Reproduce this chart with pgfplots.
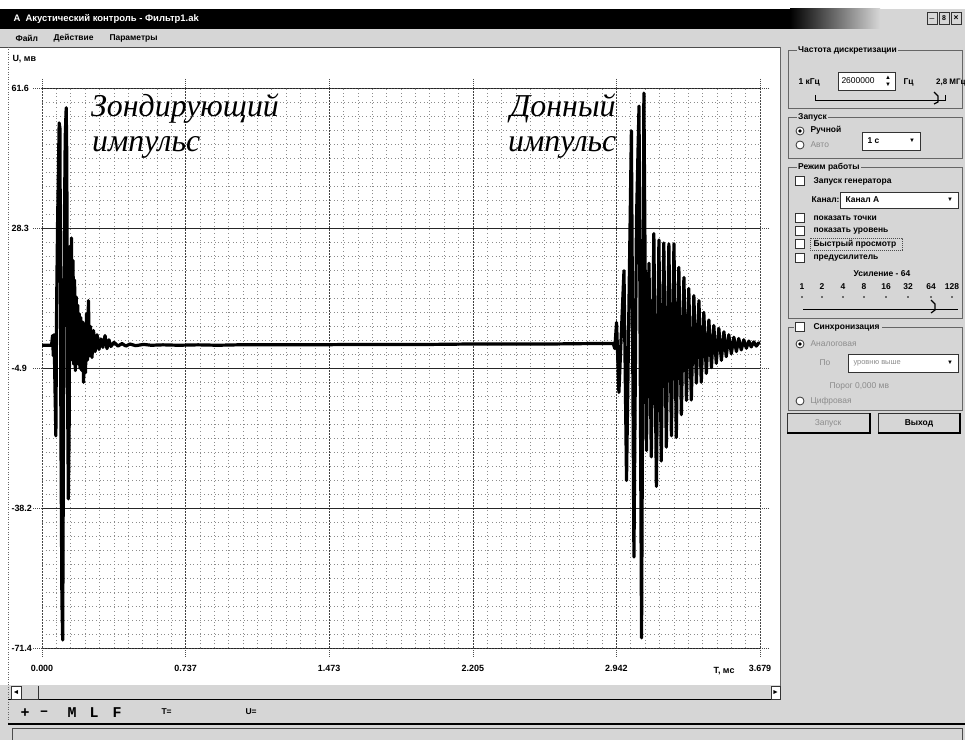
\documentclass[border=0pt]{standalone}
\usepackage{pgfplots}
\pgfplotsset{compat=1.18}
\usepackage{fontspec}
\setmainfont{Liberation Sans}
\newfontfamily\serifit{Liberation Serif}
\newfontfamily\monob{Liberation Mono}
\definecolor{panel}{gray}{0.84}
\definecolor{dimtext}{gray}{0.55}
\newcommand{\ui}{\fontsize{8.5}{10}\selectfont}
\newcommand{\chk}[1]{\filldraw[fill=white, draw=black!80, line width=0.8bp] (#1) ++(-4.5,-4.5) rectangle ++(9,9);}
\newcommand{\rad}[1]{\filldraw[fill=white, draw=black!80, line width=0.8bp] (#1) circle (4);}
\begin{document}
\begin{tikzpicture}[x=1bp,y=1bp]
\useasboundingbox (0,0) rectangle (965,740);
\clip (0,0) rectangle (965,740);
\fill[white] (0,0) rectangle (965,740);
\begin{scope}[shift={(0,740)}, y=-1bp]
  % grey areas
  \fill[panel] (0,29) rectangle (965,47);
  \fill[panel] (780,47) rectangle (965,740);
  \fill[panel] (0,685) rectangle (780,740);
  % title bar
  \fill[black] (0,9) rectangle (790,29);
  \shade[left color=black, right color=panel] (790,9) rectangle (880,29);
  \fill[panel] (880,9) rectangle (965,29);
  \node[anchor=west, text=white, font=\fontsize{9.5}{11}\selectfont\bfseries] at (10,19) {А\ \ Акустический контроль - Фильтр1.ak};
  \foreach \bx/\sym in {932/\_, 944/\textbf{\scriptsize 8}, 956/\textbf{×}} {
    \draw[black!80, line width=0.8bp] (\bx-5,12) rectangle (\bx+5,24);
    \node[font=\ui] at (\bx,18) {\sym};
  }
  % menu
  \node[anchor=west, font=\ui\bfseries] at (12,38) {Файл};
  \node[anchor=west, font=\ui\bfseries] at (50,38) {Действие};
  \node[anchor=west, font=\ui\bfseries] at (106,38) {Параметры};
  \draw[black!70, line width=0.6bp] (0,47) -- (780,47);
  % plot widget borders
  \draw[black!60, line width=0.6bp, dash pattern=on 1bp off 1.5bp] (8,47) -- (8,722);
  \draw[black!60, line width=0.6bp] (780,47) -- (780,700);
  \node[anchor=west, font=\fontsize{9}{10}\selectfont\bfseries] at (9,59) {U, мв};
  % bottom
  \draw[black, line width=1bp] (8,700) -- (780,700);
  \filldraw[fill=white, draw=black!80, line width=0.8bp] (11,686) rectangle (21,699);
  \node[font=\fontsize{7}{8}\selectfont] at (16,692.5) {◄};
  \draw[black!80, line width=0.8bp] (21,699) -- (38,699) -- (38,686);
  \filldraw[fill=white, draw=black!80, line width=0.8bp] (771,686) rectangle (780,699);
  \node[font=\fontsize{7}{8}\selectfont] at (775.5,692.5) {►};
  \foreach \tx/\tt in {25/+, 44/–, 72/M, 94/L, 117/F}
    \node[font=\monob\bfseries\fontsize{15}{16}\selectfont] at (\tx,713) {\tt};
  \node[anchor=west, font=\ui\bfseries] at (158,712) {T=};
  \node[anchor=west, font=\ui\bfseries] at (242,712) {U=};
  \draw[black, line width=1.2bp] (8,724) -- (965,724);
  \draw[black!70, line width=0.8bp] (12,728) rectangle (962,740);
  % right panel: sampling frequency
  \draw[black!60, line width=0.6bp] (788,50) rectangle (962,108);
  \node[anchor=west, fill=panel, inner sep=1bp, font=\ui\bfseries] at (797,50) {Частота дискретизации};
  \node[anchor=west, font=\ui\bfseries] at (795,82) {1 кГц};
  \filldraw[fill=white, draw=black!80, line width=0.8bp] (838,72) rectangle (895,90);
  \node[anchor=west, font=\ui] at (838,81) {2600000};
  \node[font=\fontsize{6}{7}\selectfont] at (888,77.5) {▲};
  \node[font=\fontsize{6}{7}\selectfont] at (888,85) {▼};
  \node[anchor=west, font=\ui\bfseries] at (900,82) {Гц};
  \node[anchor=west, inner sep=0, font=\fontsize{8}{9}\selectfont\bfseries] at (936,83) {2,8 МГц};
  \draw[black, line width=0.9bp] (815,100) -- (945,100);
  \draw[black, line width=0.9bp] (815,95) -- (815,101) (945,95) -- (945,101);
  \draw[black, line width=1.2bp] (934,92) -- (938,96) -- (938,102) -- (934,104);
  % launch
  \draw[black!60, line width=0.6bp] (788,117) rectangle (962,158);
  \node[anchor=west, fill=panel, inner sep=1bp, font=\ui\bfseries] at (797,117) {Запуск};
  \rad{800,131} \fill (800,131) circle (1.8);
  \node[anchor=west, font=\ui\bfseries] at (807,130) {Ручной};
  \rad{800,145}
  \node[anchor=west, font=\ui, text=dimtext] at (807,145) {Авто};
  \filldraw[fill=white, draw=black!80, line width=0.8bp] (862,132) rectangle (920,150);
  \node[anchor=west, font=\ui\bfseries] at (864,141) {1 с};
  \node[font=\fontsize{6}{7}\selectfont] at (912,141) {▼};
  % mode
  \draw[black!60, line width=0.6bp] (788,167) rectangle (962,318);
  \node[anchor=west, fill=panel, inner sep=1bp, font=\ui\bfseries] at (797,167) {Режим работы};
  \chk{800,181}
  \node[anchor=west, font=\ui\bfseries] at (810,181) {Запуск генератора};
  \node[anchor=west, font=\ui\bfseries] at (808,200) {Канал:};
  \filldraw[fill=white, draw=black!80, line width=0.8bp] (840,192) rectangle (958,208);
  \node[anchor=west, font=\ui\bfseries] at (842,200) {Канал А};
  \node[font=\fontsize{6}{7}\selectfont] at (950,200) {▼};
  \chk{800,218} \node[anchor=west, font=\ui\bfseries] at (810,218) {показать точки};
  \chk{800,231} \node[anchor=west, font=\ui\bfseries] at (810,231) {показать уровень};
  \chk{800,244} \node[anchor=west, font=\ui\bfseries] at (810,244) {Быстрый просмотр};
  \draw[black!70, line width=0.5bp, dash pattern=on 1bp off 1bp] (810,238) rectangle (902,250);
  \chk{800,258} \node[anchor=west, font=\ui\bfseries] at (810,258) {предусилитель};
  \node[font=\ui\bfseries] at (882,274) {Усиление - 64};
  \foreach \lx/\lt in {802/1, 822/2, 843/4, 864/8, 886/16, 908/32, 931/64, 952/128}
    { \node[font=\ui\bfseries] at (\lx,287) {\lt}; \fill (\lx,297) circle (0.9); }
  \draw[black, line width=0.9bp] (803,309) -- (958,309);
  \draw[black, line width=1.2bp] (931,300) -- (935,304) -- (935,310) -- (931,313);
  % synchronisation
  \draw[black!60, line width=0.6bp] (788,327) rectangle (962,410);
  \fill[panel] (794,320) rectangle (882,334);
  \chk{800,327}
  \node[anchor=west, font=\ui\bfseries] at (810,327) {Синхронизация};
  \rad{800,344} \fill (800,344) circle (1.8);
  \node[anchor=west, font=\ui, text=dimtext] at (807,344) {Аналоговая};
  \node[anchor=west, font=\ui, text=dimtext] at (816,363) {По};
  \filldraw[fill=white, draw=black!80, line width=0.8bp] (848,354) rectangle (958,372);
  \node[anchor=west, font=\fontsize{7.5}{9}\selectfont, text=dimtext] at (850,363) {уровню выше};
  \node[font=\fontsize{6}{7}\selectfont] at (950,363) {▼};
  \node[anchor=west, font=\ui, text=dimtext] at (826,386) {Порог 0,000 мв};
  \rad{800,401}
  \node[anchor=west, font=\ui, text=dimtext] at (807,401) {Цифровая};
  % buttons
  \draw[black!80, line width=0.8bp] (787,413) rectangle (870,433);
  \draw[black, line width=1.4bp] (787,433) -- (870,433) -- (870,413);
  \node[font=\ui, text=dimtext] at (828,423) {Запуск};
  \draw[black!80, line width=0.8bp] (878,413) rectangle (960,433);
  \draw[black, line width=1.4bp] (878,433) -- (960,433) -- (960,413);
  \node[font=\ui\bfseries] at (919,423) {Выход};
  \node[font=\fontsize{9}{10}\selectfont\bfseries] at (724,671) {T, мс};
\end{scope}

\begin{axis}[
  at={(42bp,92bp)}, anchor=south west,
  scale only axis, width=718bp, height=560bp,
  xmin=0, xmax=3.679, ymin=-71.4, ymax=61.6,
  xtick={0,0.7358,1.4716,2.2074,2.9432,3.679},
  xticklabels={0.000,0.737,1.473,2.205,2.942,3.679},
  ytick={-71.4,-38.15,-4.9,28.35,61.6},
  yticklabels={-71.4,-38.2,-4.9,28.3,61.6},
  minor x tick num=9, minor y tick num=9,
  grid=both,
  major x grid style={black!75, line width=0.6bp, dash pattern=on 2bp off 1bp},
  major y grid style={black!85, line width=0.7bp},
  minor grid style={black!45, line width=0.55bp, dash pattern=on 1bp off 2.6bp},
  axis line style={black!70, line width=0.55bp, dash pattern=on 1bp off 2bp},
  tick align=outside, tick pos=both,
  xticklabel pos=bottom, yticklabel pos=left,
  major tick length=9bp, minor tick length=0bp,
  major tick style={black!70, line width=0.5bp, dash pattern=on 1bp off 1bp},
  ticklabel style={font=\fontsize{9}{10}\selectfont\bfseries},
  xticklabel style={yshift=-5bp},
  yticklabel style={anchor=west, xshift=-25bp},
]
\addplot[black, line width=3.2bp, line join=round, mark=none] coordinates {
(0,0.5) (0.049,0.5) (0.054,2.8) (0.058,-2) (0.062,3) (0.066,-8) (0.071,-21)
(0.075,10) (0.080,30) (0.088,53.3) (0.092,52) (0.097,-20) (0.102,-60)
(0.106,-69.5) (0.110,-20) (0.114,25) (0.119,50) (0.124,56.9) (0.127,45)
(0.131,-10) (0.135,-36) (0.139,-20) (0.143,24) (0.147,8) (0.151,26)
(0.155,-3) (0.159,20.6) (0.163,-4) (0.167,16) (0.171,-5.5) (0.175,12)
(0.179,-3) (0.183,10) (0.187,-4) (0.191,8) (0.195,-5) (0.199,7.1)
(0.204,-5.5) (0.209,6) (0.213,-8.3) (0.218,4) (0.223,-6) (0.228,8)
(0.233,-3) (0.238,11.1) (0.243,-2) (0.248,5) (0.256,-2.4) (0.264,4)
(0.272,-1) (0.282,3) (0.292,-0.5) (0.302,2) (0.312,0) (0.323,2.8)
(0.333,-0.3) (0.343,1.8) (0.353,0.2) (0.369,1.2) (0.389,0.3) (0.41,0.9)
(0.43,0.3) (0.45,0.8) (0.48,0.4) (0.52,0.7) (0.56,0.5) (0.62,0.6) (0.7,0.5)
(0.8,0.6) (0.9,0.5) (1.0,0.6) (1.2,0.6) (1.4,0.6) (1.6,0.7) (1.8,0.7)
(2.0,0.7) (2.2,0.8) (2.4,0.8) (2.6,0.8) (2.8,0.9) (2.92,0.9)
(2.927,0.9) (2.935,-0.3) (2.944,5.9) (2.956,-10.7) (2.969,4) (2.982,18.2)
(2.995,-31.6) (3.008,12) (3.020,51.4) (3.033,-49.8) (3.046,30) (3.059,57.3)
(3.072,-69) (3.084,60.4) (3.097,-24.5) (3.110,20) (3.122,-26)
(3.135,27) (3.148,-33) (3.161,25.5) (3.173,-27) (3.186,24.8) (3.199,-23.7)
(3.212,24.6) (3.225,-21) (3.238,24.6) (3.250,-21.4) (3.263,19) (3.276,-16)
(3.289,16.6) (3.302,-12.6) (3.314,14) (3.327,-12.5) (3.340,12.3) (3.353,-8.5)
(3.366,11.1) (3.378,-8.3) (3.391,8.3) (3.404,-6.2) (3.417,6.5) (3.430,-4.8)
(3.442,5.2) (3.455,-3.8) (3.468,4.5) (3.481,-3.1) (3.494,3.7) (3.506,-2.2)
(3.519,3.0) (3.532,-1.5) (3.545,2.4) (3.558,-1.0) (3.570,2.1) (3.583,-0.6)
(3.596,1.8) (3.609,-0.2) (3.622,1.5) (3.634,0.1) (3.647,1.3) (3.660,0.3)
(3.673,1.1) (3.679,0.9)
};
\end{axis}

\begin{scope}[shift={(0,740)}, y=-1bp]
  \node[anchor=base west, inner sep=0, font=\serifit\itshape\fontsize{32}{35}\selectfont] at (91,117) {Зондирующий};
  \node[anchor=base west, inner sep=0, font=\serifit\itshape\fontsize{32}{35}\selectfont] at (92,152) {импульс};
  \node[anchor=base west, inner sep=0, font=\serifit\itshape\fontsize{32}{35}\selectfont] at (510,117) {Донный};
  \node[anchor=base west, inner sep=0, font=\serifit\itshape\fontsize{32}{35}\selectfont] at (508,152) {импульс};
\end{scope}
\end{tikzpicture}
\end{document}
